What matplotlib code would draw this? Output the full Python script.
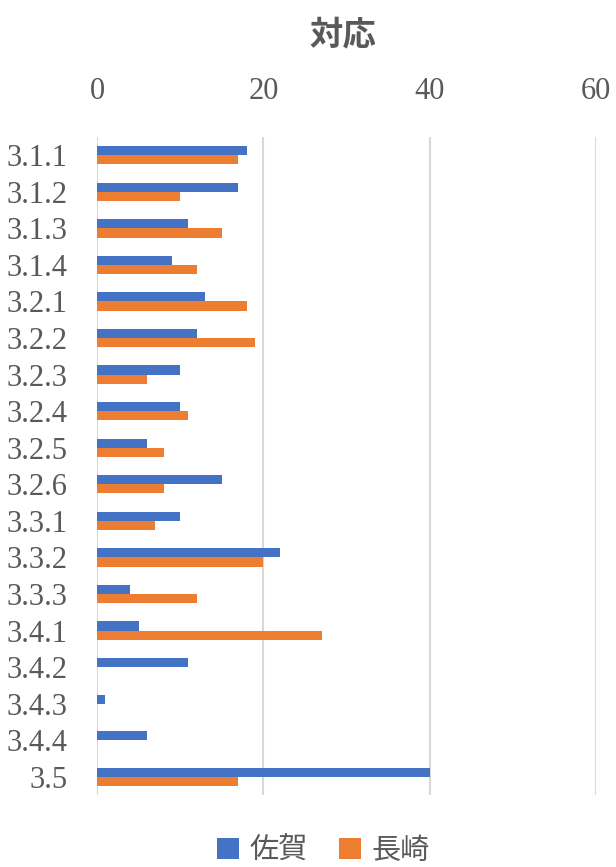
import numpy as np
import matplotlib.pyplot as plt

plt.rcParams['font.family'] = ['Liberation Serif', 'Noto Sans CJK JP', 'DejaVu Sans']

# データ
categories = ["3.1.1", "3.1.2", "3.1.3", "3.1.4", "3.2.1", "3.2.2", "3.2.3",
              "3.2.4", "3.2.5", "3.2.6", "3.3.1", "3.3.2", "3.3.3", "3.4.1",
              "3.4.2", "3.4.3", "3.4.4", "3.5"]
saga = [18, 17, 11, 9, 13, 12, 10, 10, 6, 15, 10, 22, 4, 5, 11, 1, 6, 40]
nagasaki = [17, 10, 15, 12, 18, 19, 6, 11, 8, 8, 7, 20, 12, 27, 0, 0, 0, 17]
series_names = ["佐賀", "長崎"]
xticks = [0, 20, 40, 60]

blue = "#4472C4"
orange = "#ED7D31"
text_gray = "#595959"

fig = plt.figure(figsize=(6.16, 8.67), dpi=100)
ax = fig.add_axes([0.1575, 0.083, 0.81, 0.759])

y = np.arange(len(categories))
h = 0.25
ax.barh(y - h / 2, saga, height=h, color=blue, label=series_names[0], zorder=3)
ax.barh(y + h / 2, nagasaki, height=h, color=orange, label=series_names[1], zorder=3)

ax.set_ylim(len(categories) - 0.5, -0.5)
ax.set_xlim(0, 60)
ax.set_xticks(xticks)
ax.set_yticks(y)
ax.set_yticklabels(categories)

ax.xaxis.tick_top()
ax.tick_params(axis='x', length=0, pad=22, labelsize=22, labelcolor=text_gray)
ax.tick_params(axis='y', length=0, pad=21, labelsize=22, labelcolor=text_gray)
for s in ax.spines.values():
    s.set_visible(False)
ax.grid(axis='x', color="#D9D9D9", linewidth=1.5, zorder=0)

fig.text(0.557, 0.96, "対応", ha='center', va='center', fontsize=24,
         family=['Noto Sans CJK JP'], color=text_gray, fontweight='bold')

fig.legend(loc='center', bbox_to_anchor=(0.525, 0.019), ncol=2, frameon=False,
           prop={'family': ['Noto Sans CJK JP'], 'size': 21},
           handlelength=0.75, handleheight=0.75, handletextpad=0.35, columnspacing=1.1,
           labelcolor=text_gray)

fig.savefig("out.png", dpi=100)
